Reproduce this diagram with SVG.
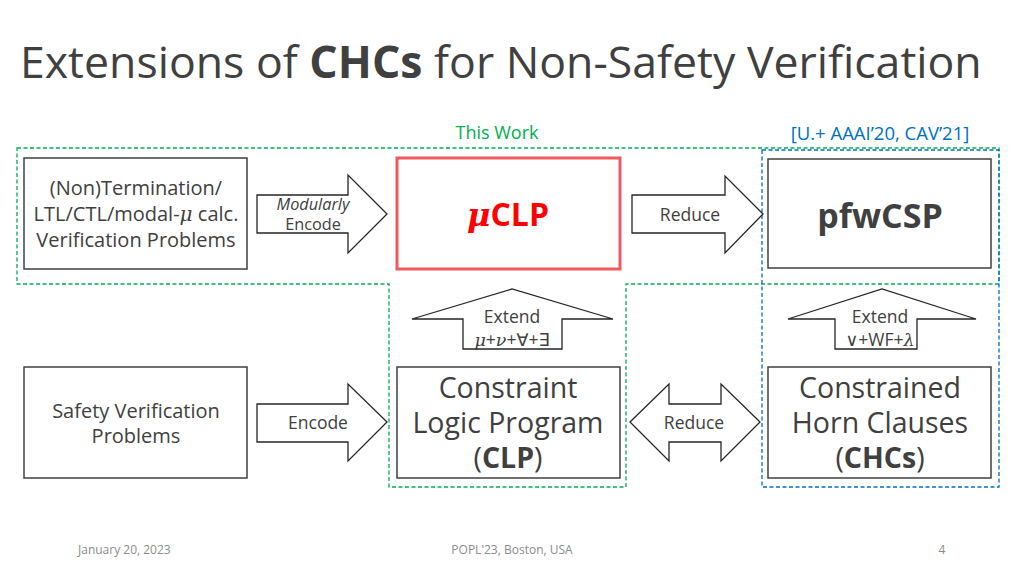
<svg xmlns="http://www.w3.org/2000/svg" width="1024" height="576" viewBox="0 0 1024 576">
<style>
text{font-family:"Open Sans","Noto Sans","DejaVu Sans",sans-serif;fill:#404040}
.box{fill:#fff;stroke:#404040;stroke-width:1.5}
.arr{fill:#fff;stroke:#262626;stroke-width:1.3;stroke-linejoin:miter}
.g{fill:none;stroke:#00b050;stroke-width:1.3;stroke-dasharray:4 2.5}
.b{fill:none;stroke:#0070c0;stroke-width:1.3;stroke-dasharray:4 2.5}
.t20{font-size:20px;text-anchor:middle}
.t28{font-size:28.5px;text-anchor:middle}
.t18{font-size:17.5px;text-anchor:middle}
.t16{font-size:16.3px;text-anchor:middle}
.ft{font-size:12px;fill:#8c8c8c}
.gr{font-style:italic;font-family:"DejaVu Serif",serif}
</style>
<rect width="1024" height="576" fill="#fff"/>
<text x="20" y="78" font-size="44.6">Extensions of <tspan font-weight="bold">CHCs</tspan> for Non-Safety Verification</text>

<text x="497" y="139" font-size="18" text-anchor="middle" style="fill:#00b050">This Work</text>
<text x="880" y="140" font-size="18.5" text-anchor="middle" style="fill:#0070c0">[U.+ AAAI’20, CAV’21]</text>

<g id="regions">
<path class="g" d="M17 148 H999 V284 H626 V487 H389 V284 H17 Z"/>
<rect class="b" x="762" y="150" width="237" height="337"/>
</g>

<g id="connectors">
<path id="c-modenc" class="arr" d="M257 195 H348 V175 L387 214 L348 253 V233 H257 Z"/>
<text x="313" y="210" class="t16" font-style="italic">Modularly</text>
<text x="313" y="230" class="t16">Encode</text>
<path id="c-reduce1" class="arr" d="M632 195 H725 V176 L763 214 L725 253 V233 H632 Z"/>
<text x="690" y="221" class="t18">Reduce</text>
<path id="c-extend1" class="arr" d="M463 349 V319 H412 L512 289 L613 319 H562 V349 Z"/>
<text x="512" y="323" class="t18">Extend</text>
<text x="512" y="346" class="t18"><tspan class="gr">μ</tspan>+<tspan class="gr">ν</tspan>+∀+∃</text>
<path id="c-extend2" class="arr" d="M835 349 V319 H788 L882 289 L976 319 H917 V349 Z"/>
<text x="880" y="323" class="t18">Extend</text>
<text x="880" y="346" class="t18">∨+WF+<tspan class="gr">λ</tspan></text>
<path id="c-encode" class="arr" d="M257 404 H348 V384 L387 422 L348 461 V442 H257 Z"/>
<text x="318" y="429" class="t18">Encode</text>
<path id="c-reduce2" class="arr" d="M630 422 L669 384 V404 H721 V384 L760 422 L721 461 V442 H669 V461 Z"/>
<text x="694" y="429" class="t18">Reduce</text>
</g>

<g id="n-problems">
<rect class="box" x="24" y="158" width="223" height="111"/>
<text x="136" y="195" class="t20">(Non)Termination/</text>
<text x="136" y="221" class="t20">LTL/CTL/modal-<tspan class="gr">μ</tspan> calc.</text>
<text x="136" y="247" class="t20">Verification Problems</text>
</g>

<g id="n-muclp">
<rect x="397" y="158" width="223" height="111" fill="#fff" stroke="#f05a5d" stroke-width="3"/>
<text x="508" y="226" font-size="32" font-weight="bold" text-anchor="middle" style="fill:#ff0000"><tspan class="gr">μ</tspan>CLP</text>
</g>

<g id="n-pfwcsp">
<rect class="box" x="768" y="159" width="223" height="109"/>
<text x="880" y="228" font-size="34" font-weight="bold" text-anchor="middle">pfwCSP</text>
</g>

<g id="n-safety">
<rect class="box" x="24" y="367" width="223" height="111"/>
<text x="136" y="418" class="t20">Safety Verification</text>
<text x="136" y="443" class="t20">Problems</text>
</g>

<g id="n-clp">
<rect class="box" x="397" y="367" width="223" height="111"/>
<text x="508" y="398" class="t28">Constraint</text>
<text x="508" y="433" class="t28">Logic Program</text>
<text x="508" y="468" class="t28">(<tspan font-weight="bold">CLP</tspan>)</text>
</g>

<g id="n-chcs">
<rect class="box" x="768" y="367" width="223" height="111"/>
<text x="880" y="398" class="t28">Constrained</text>
<text x="880" y="433" class="t28">Horn Clauses</text>
<text x="880" y="468" class="t28">(<tspan font-weight="bold">CHCs</tspan>)</text>
</g>

<text x="78" y="554" class="ft">January 20, 2023</text>
<text x="512" y="554" class="ft" text-anchor="middle">POPL'23, Boston, USA</text>
<text x="942" y="554" class="ft" text-anchor="middle">4</text>
</svg>
